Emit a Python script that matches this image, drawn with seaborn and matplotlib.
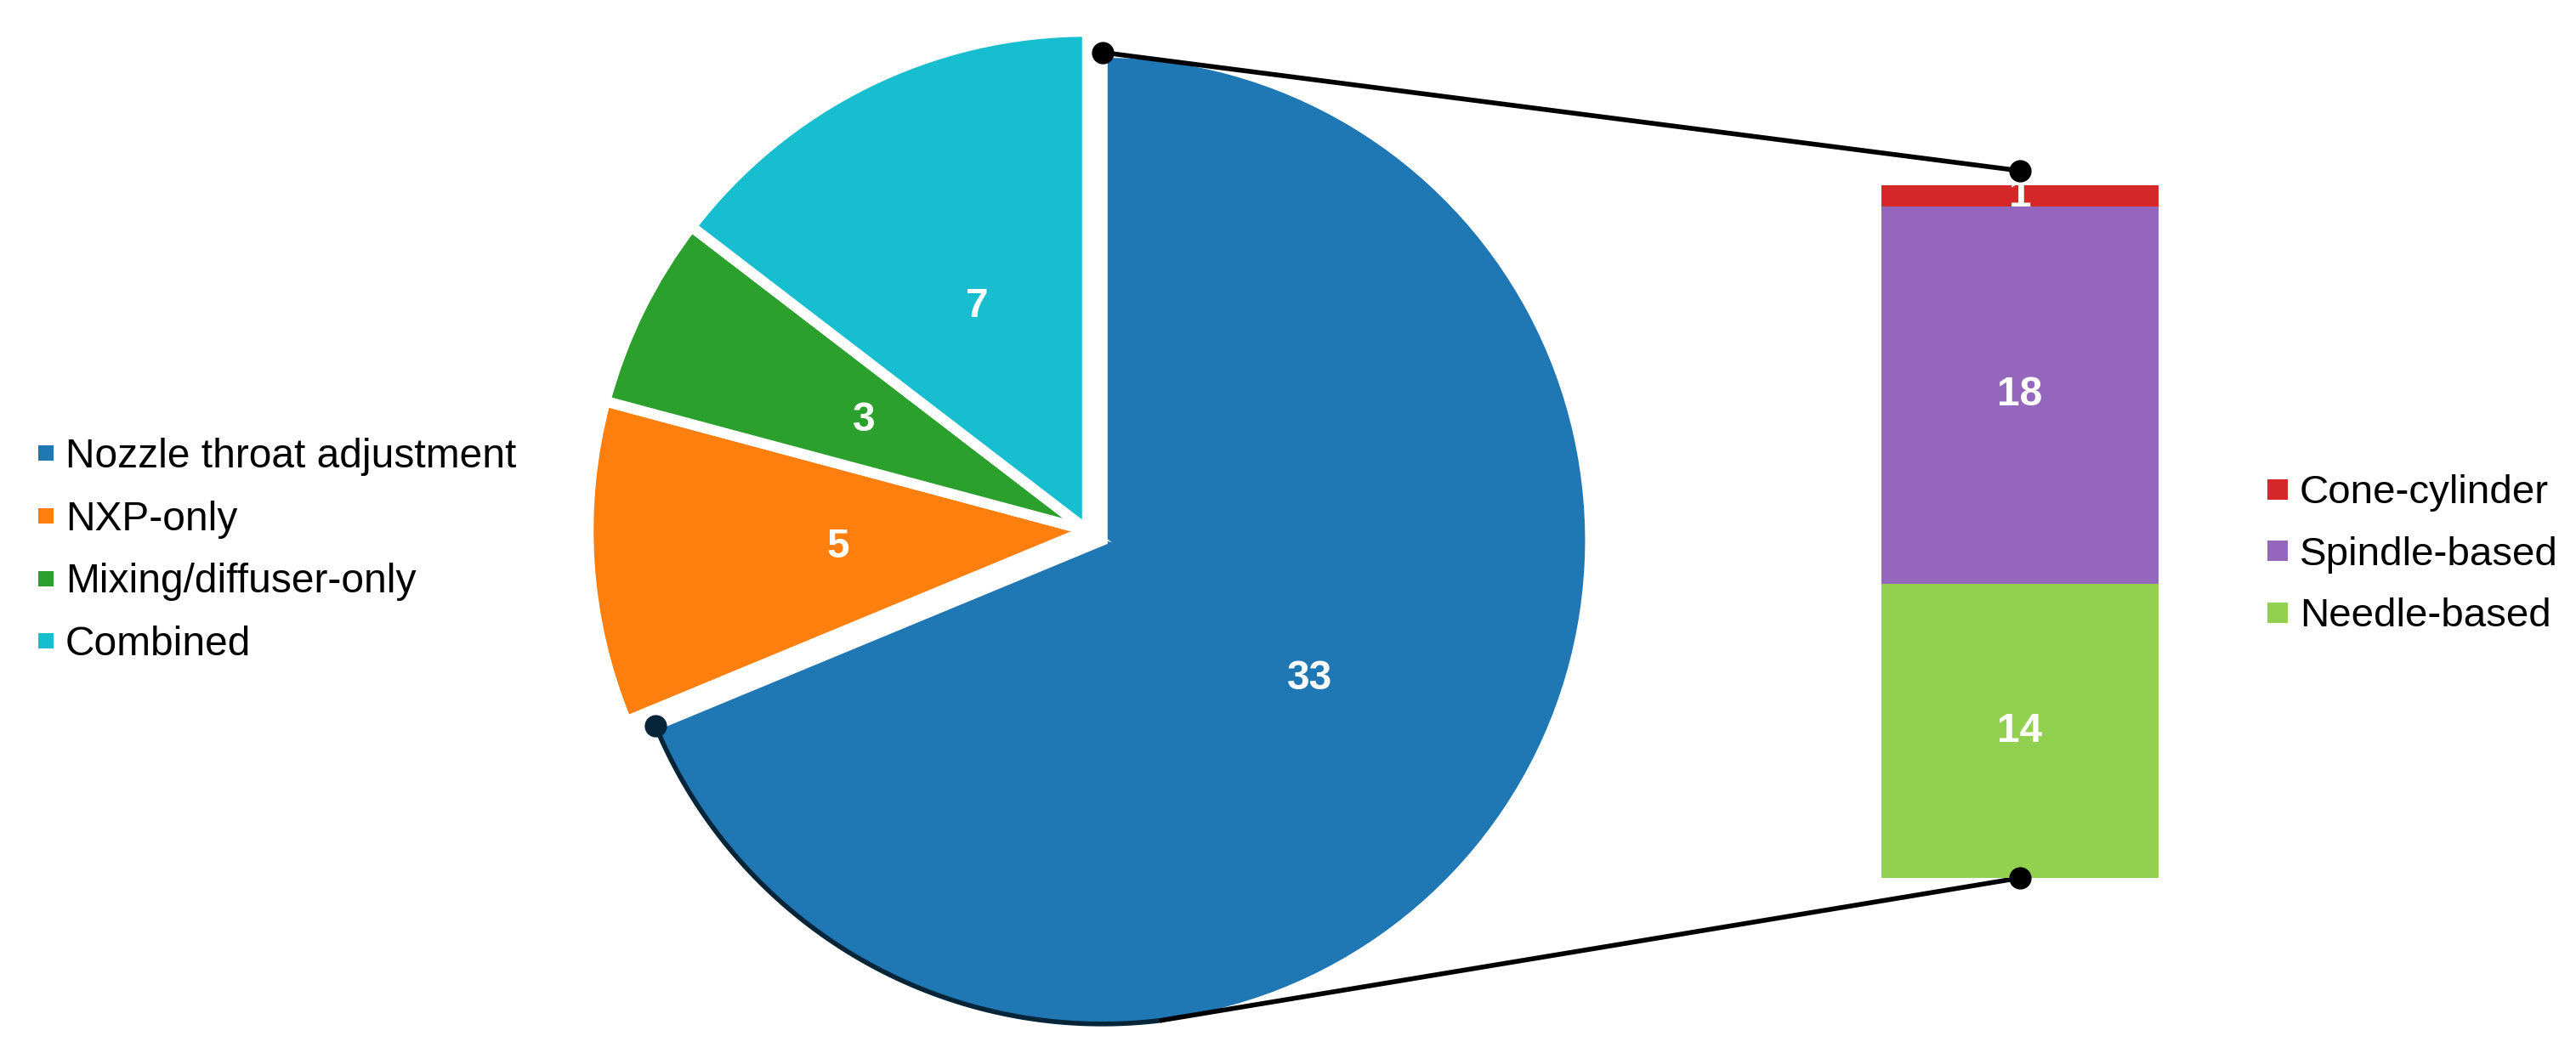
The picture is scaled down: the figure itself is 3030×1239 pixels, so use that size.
#!/usr/bin/env python3
"""Pie-of-bar: variable-geometry strategies, with the nozzle-throat slice broken down."""

import numpy as np
import matplotlib
matplotlib.use("Agg")
import matplotlib.pyplot as plt
import seaborn as sns
from matplotlib.lines import Line2D

# Data
pie_labels = ["Nozzle throat adjustment", "NXP-only", "Mixing/diffuser-only", "Combined"]
pie_values = [33, 5, 3, 7]
bar_labels = ["Needle-based", "Spindle-based", "Cone-cylinder"]   # bottom -> top
bar_values = [14, 18, 1]

sns.set_theme(style="white")
plt.rcParams["font.family"] = ["Liberation Sans", "DejaVu Sans"]
plt.rcParams["text.color"] = "black"

tab = sns.color_palette("tab10")
pie_colors = [tab[0], tab[1], tab[2], tab[9]]
bar_colors = ["#92d050", tab[4], tab[3]]
ARC_COLOR = "#062538"

W, H = 3030, 1239
fig = plt.figure(figsize=(W / 300, H / 300), dpi=300)

# pie axes spans the figure; one data unit = pie radius in pixels
PIE_CX, PIE_CY, PIE_R = 1279, 615, 587
ax_pie = fig.add_axes([0, 0, 1, 1])
total = sum(pie_values)
wedges, _, autotexts = ax_pie.pie(
    pie_values, colors=pie_colors, startangle=90, counterclock=False,
    explode=[0.036, 0, 0, 0], autopct=lambda p: f"{p * total / 100:.0f}",
    pctdistance=0.5, wedgeprops=dict(edgecolor="white", linewidth=3.0),
    textprops=dict(color="white", fontsize=11.5, fontweight="bold"))
wedges[0].set_radius(0.978)
ax_pie.set_xlim(-PIE_CX / PIE_R, (W - PIE_CX) / PIE_R)
ax_pie.set_ylim(-PIE_CY / PIE_R, (H - PIE_CY) / PIE_R)
ax_pie.axis("off")

# bar axes
ax_bar = fig.add_axes([2213 / W, 206 / H, 326 / W, 815 / H])
bottom = 0
for v, c in zip(bar_values, bar_colors):
    cont = ax_bar.bar(0, v, width=1, bottom=bottom, color=c, linewidth=0)
    ax_bar.bar_label(cont, labels=[str(v)], label_type="center",
                     color="white", fontsize=11.5, fontweight="bold")
    bottom += v
ax_bar.set_xlim(-0.5, 0.5)
ax_bar.set_ylim(0, sum(bar_values))
ax_bar.axis("off")

# connectors: outline along the lower arc of the big slice, then lines to the bar
w = wedges[0]
cx, cy = w.center
r = w.r
r_arc = r - 0.0085
ARC_END = -83
th = np.radians(np.linspace(w.theta1, ARC_END, 80))
ax_pie.plot(cx + r_arc * np.cos(th), cy + r_arc * np.sin(th), color=ARC_COLOR,
            lw=1.35, solid_capstyle="round")
t0 = np.radians(w.theta1)
ax_pie.plot([cx + r_arc * np.cos(t0)], [cy + r_arc * np.sin(t0)], "o",
            color=ARC_COLOR, ms=5.3)
top_pt = (cx, cy + r)
ax_pie.plot([top_pt[0]], [top_pt[1]], "o", color="black", ms=5.3, zorder=6)

# bar anchor points, mapped into the pie axes' data space
bar_top = sum(bar_values) * 1.021
to_pie = ax_bar.transData + ax_pie.transData.inverted()
bar_top_pt = to_pie.transform((0, bar_top))
bar_bot_pt = to_pie.transform((0, 0))
end_pt = (cx + r_arc * np.cos(th[-1]), cy + r_arc * np.sin(th[-1]))
for (xa, ya), (xb, yb) in [(top_pt, bar_top_pt), (end_pt, bar_bot_pt)]:
    ax_pie.plot([xa, xb], [ya, yb], color="black", lw=1.35, clip_on=False,
                solid_capstyle="round", zorder=5)
ax_bar.plot([0, 0], [0, bar_top], "o", ls="", color="black", ms=5.3,
            clip_on=False, zorder=5)

# legends
left_handles = [Line2D([], [], marker="s", ls="", color=c, markersize=4.2,
                       markeredgewidth=0) for c in pie_colors]
fig.legend(left_handles, pie_labels, loc="center left", bbox_to_anchor=(42 / W, 0.477),
           frameon=False, borderpad=0, borderaxespad=0, handlelength=0.5,
           handletextpad=0.23, labelspacing=0.6, fontsize=11.5, labelcolor="black")

right_handles = [Line2D([], [], marker="s", ls="", color=c, markersize=5.8,
                        markeredgewidth=0) for c in bar_colors[::-1]]
fig.legend(right_handles, bar_labels[::-1], loc="center left",
           bbox_to_anchor=(2665 / W, 0.473), frameon=False, borderpad=0,
           borderaxespad=0, handlelength=0.6, handletextpad=0.24,
           labelspacing=0.6, fontsize=11.4, labelcolor="black")

fig.savefig("out.png", dpi=300)
